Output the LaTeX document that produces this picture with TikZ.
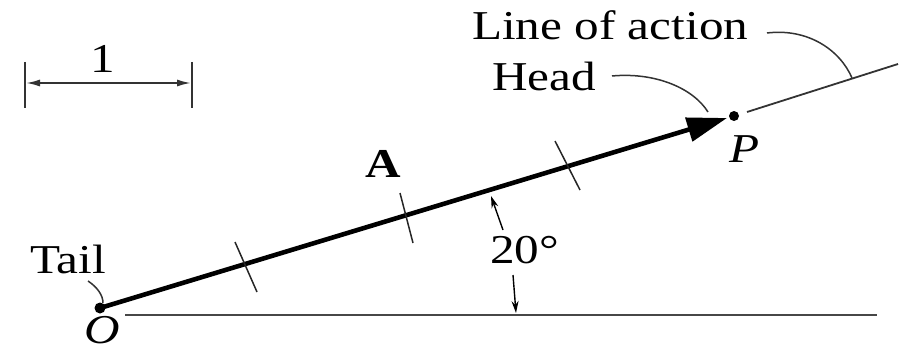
\documentclass[tikz,border=0pt]{standalone}
\usepackage{fontspec}
\usepackage{graphicx}
\setmainfont{Liberation Serif}
\usetikzlibrary{arrows.meta}
\newcommand{\hs}[1]{\scalebox{1.2}[1]{#1}}
\begin{document}
\begin{tikzpicture}[x=1pt,y=-1pt,
  lbl/.style={inner sep=0pt,anchor=base west,font=\fontsize{41}{41}\selectfont},
  leader/.style={line width=1.5pt,black!80},
  thin/.style={line width=1.8pt,black!80},
  tick/.style={line width=1.5pt,black!85},
  small/.style={line width=1.4pt,-{Stealth[length=12pt,width=7pt]}}]
\useasboundingbox (0,0) rectangle (920,353);
% points
\coordinate (O) at (100,308);
\coordinate (tip) at (727,118);
\coordinate (P) at (734,116);
% baseline
\coordinate (h0) at (125,315);
\coordinate (h1) at (877,315);
\draw[line width=2.8pt,black!72] (h0) -- (h1);
% line of action
\coordinate (la0) at (747,112);
\coordinate (la1) at (898,64);
\draw[thin] (la0) -- (la1);
% main vector
\draw[line width=4.6pt,-{Triangle[length=40pt,width=24pt]}] (O) -- (tip);
\fill (O) circle (5.5);
\fill (P) circle (5);
% ticks
\coordinate (t1a) at (235,242); \coordinate (t1b) at (257,292);
\coordinate (t2a) at (400,193); \coordinate (t2b) at (413,243);
\coordinate (t3a) at (555,141); \coordinate (t3b) at (580,190);
\draw[tick] (t1a) -- (t1b);
\draw[tick] (t2a) -- (t2b);
\draw[tick] (t3a) -- (t3b);
% scale bar
\coordinate (s0a) at (25,62); \coordinate (s0b) at (25,108);
\coordinate (s1a) at (192,62); \coordinate (s1b) at (192,108);
\coordinate (s0) at (26,83); \coordinate (s1) at (191,83);
\draw[thin] (s0a) -- (s0b);
\draw[thin] (s1a) -- (s1b);
\draw[line width=1.8pt,black!80,{Latex[length=14pt,width=7pt]}-{Latex[length=14pt,width=7pt]}] (s0) -- (s1);
\node[lbl,anchor=base] (one) at (103,72) {\hs{1}};
% labels
\node[lbl] (loa) at (472,40) {\hs{Line of action}};
\node[lbl] (head) at (492,90) {\hs{Head}};
\node[lbl] (tail) at (30,273) {\hs{Tail}};
\node[lbl,anchor=base] (Olbl) at (102,343) {\hs{\itshape O}};
\node[lbl] (Plbl) at (729,162) {\hs{\itshape P}};
\node[lbl] (Albl) at (365,177) {\hs{\bfseries A}};
\node[lbl] (ang) at (490,263) {\hs{20°}};
% leaders
\coordinate (tl0) at (88,281); \coordinate (tl1) at (103,303);
\draw[leader] (tl0) .. controls (97,287) and (103,295) .. (tl1);
\coordinate (hl0) at (612,76); \coordinate (hl1) at (708,112);
\draw[leader] (hl0) .. controls (655,72) and (693,88) .. (hl1);
\coordinate (al0) at (767,33); \coordinate (al1) at (852,78);
\draw[leader] (al0) .. controls (808,28) and (840,50) .. (al1);
% angle arrows
\coordinate (u0) at (503,230); \coordinate (u1) at (491,196);
\coordinate (d0) at (513,275); \coordinate (d1) at (516,313);
\draw[small] (u0) -- (u1);
\draw[small] (d0) -- (d1);
\end{tikzpicture}
\end{document}
